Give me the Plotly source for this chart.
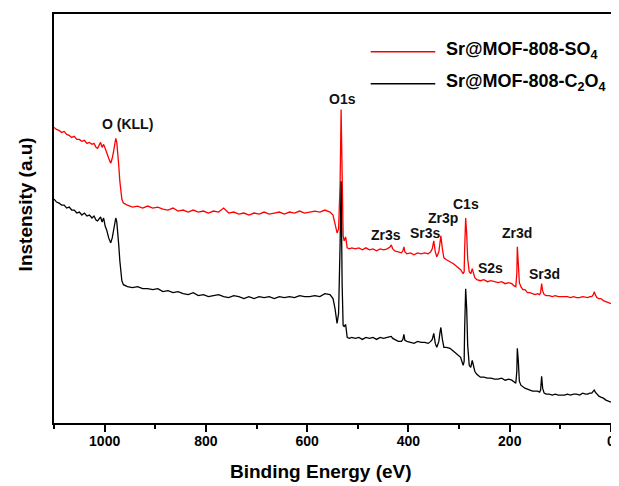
import plotly.graph_objects as go

# Binding energy grid (eV)
be_ev = [
    1100, 1095, 1090, 1085, 1080, 1075, 1070, 1065, 1060, 1055,
    1050, 1045, 1040, 1035, 1030, 1025, 1021, 1017, 1014, 1011,
    1008, 1005, 1002, 999, 996, 992, 988, 985, 982, 980,
    978, 976, 974, 972, 970, 968, 966, 963, 960,
    955, 945, 935, 925, 915, 905, 895, 885, 875, 865,
    855, 845, 835, 825, 815, 805, 795, 785, 775, 765,
    755, 745, 735, 725, 715, 705, 695, 685, 675, 665,
    655, 645, 635, 625, 615, 605, 595, 585, 575, 565,
    555,
    549, 545, 541, 538, 535, 533, 531, 529, 527, 524, 521, 517, 512,
    505, 498, 491, 484, 477, 470, 463, 456, 449, 442,
    436, 434, 431, 427, 420, 414, 411, 409, 407, 403,
    396, 389, 382, 375, 368, 361, 356, 353, 350, 347,
    344, 340, 338, 336, 333, 330, 325, 318, 311, 304,
    297, 292, 290, 289, 287, 285, 283, 280, 277, 274,
    272, 269, 265, 258, 251, 244, 237, 230, 223, 216,
    209, 202, 196, 192, 188, 186, 185, 183, 181, 178,
    174, 170, 165, 160, 155, 150, 145, 141, 139, 137,
    135, 132, 128, 122, 116, 110, 104, 98, 92, 86,
    80, 74, 68, 62, 56, 50, 46, 42, 38, 35,
    33, 31, 28, 24, 20, 15, 10, 5, 0,
]

# Sr@MOF-808-SO4 (red), arbitrary intensity units
int_so4 = [
    297, 295, 294, 292, 293, 290, 289, 287, 288, 285,
    285, 283, 284, 281, 282, 280, 281, 277, 276, 279,
    282, 277, 280, 276, 271, 266, 261, 266, 274, 281,
    286, 282, 272, 258, 243, 232, 225, 221, 220,
    219, 217, 218, 216, 218, 216, 217, 215, 214, 216,
    213, 214, 212, 214, 212, 213, 211, 213, 212, 216,
    211, 212, 210, 211, 209, 211, 210, 212, 210, 211,
    212, 210, 212, 211, 213, 211, 212, 213, 212, 214,
    212,
    209, 200, 191, 195, 240, 315, 230, 188, 183, 187, 176, 175, 176,
    175, 176, 174, 176, 174, 175, 173, 175, 174, 175,
    177, 179, 175, 173, 172, 171, 173, 177, 172, 170,
    171, 169, 171, 170, 171, 170, 172, 175, 183, 172,
    167, 172, 180, 188, 175, 166, 164, 162, 160, 157,
    154, 150, 152, 175, 206, 190, 165, 152, 150, 155,
    152, 146, 144, 143, 144, 142, 143, 142, 141, 142,
    140, 141, 140, 138, 137, 150, 177, 160, 141, 137,
    134, 134, 131, 131, 130, 129, 130, 129, 131, 140,
    133, 129, 128, 128, 127, 128, 127, 127, 127, 127,
    126, 127, 126, 126, 127, 126, 126, 127, 127, 129,
    132, 129, 126, 125, 125, 123, 122, 121, 120,
]

# Sr@MOF-808-C2O4 (black)
int_c2o4 = [
    225, 222, 221, 219, 219, 216, 217, 214, 214, 211,
    212, 209, 211, 208, 209, 206, 208, 204, 203, 205,
    207, 202, 206, 198, 194, 186, 181, 186, 196, 202,
    206, 202, 193, 178, 163, 150, 143, 139, 138,
    137, 136, 137, 135, 135, 134, 135, 132, 133, 131,
    132, 130, 129, 131, 128, 129, 127, 128, 129, 127,
    126, 128, 127, 125, 127, 125, 127, 126, 127, 125,
    127, 126, 127, 126, 128, 127, 127, 128, 127, 130,
    129,
    125, 115, 100, 110, 180, 243, 140, 98, 97, 99, 86, 85, 86,
    85, 86, 84, 86, 85, 86, 84, 86, 85, 86,
    87, 87, 85, 84, 82, 82, 84, 89, 83, 82,
    81, 80, 82, 81, 81, 80, 82, 84, 90, 80,
    76, 82, 90, 96, 84, 76, 76, 75, 72, 69,
    66, 58, 62, 95, 135, 115, 78, 58, 56, 63,
    58, 52, 49, 46, 46, 45, 45, 44, 44, 45,
    43, 44, 43, 41, 40, 52, 75, 62, 42, 38,
    36, 35, 34, 33, 32, 32, 32, 31, 33, 47,
    35, 30, 29, 29, 28, 29, 28, 28, 28, 29,
    28, 29, 29, 28, 30, 29, 29, 30, 30, 32,
    33, 31, 29, 27, 26, 25, 23, 22, 21,
]

assert len(be_ev) == len(int_so4) == len(int_c2o4), (len(be_ev), len(int_so4), len(int_c2o4))

# Peak labels: (text, BE position, intensity position)
peak_labels = ["O (KLL)", "O1s", "Zr3s", "Sr3s", "Zr3p", "C1s", "S2s", "Zr3d", "Sr3d"]
peak_label_x = [955, 530, 444, 367, 332, 287, 238, 185, 132]
peak_label_y = [300, 326, 189, 191, 206, 220, 156, 191, 150]

series_names = ["Sr@MOF-808-SO<sub>4</sub>", "Sr@MOF-808-C<sub>2</sub>O<sub>4</sub>"]
series_colors = ["#ff0000", "#000000"]

major_ticks = [1000, 800, 600, 400, 200, 0]
minor_ticks = [1100, 900, 700, 500, 300, 100]

FONT = "Liberation Sans, Arial, sans-serif"

fig = go.Figure()
for vals, name, col in zip([int_so4, int_c2o4], series_names, series_colors):
    fig.add_trace(go.Scatter(x=be_ev, y=vals, mode="lines", name=name,
                             line=dict(color=col, width=1.3), showlegend=False))

annotations = []
for t, x, y in zip(peak_labels, peak_label_x, peak_label_y):
    annotations.append(dict(text="<b>" + t + "</b>", x=x, y=y, xref="x", yref="y",
                            showarrow=False, font=dict(family=FONT, size=14, color="#111")))

# axis titles
annotations.append(dict(text="<b>Binding Energy (eV)</b>", x=0.4795, y=-0.119, xref="paper", yref="paper",
                        showarrow=False, xanchor="center", yanchor="middle",
                        font=dict(family=FONT, size=19, color="#000")))
annotations.append(dict(text="<b>Instensity (a.u)</b>", x=-0.0517, y=0.535, xref="paper", yref="paper",
                        showarrow=False, textangle=-90, xanchor="center", yanchor="middle",
                        font=dict(family=FONT, size=19, color="#000")))

# manual legend
shapes = []
leg_y = [0.9075, 0.8297]
for name, col, ly in zip(series_names, series_colors, leg_y):
    shapes.append(dict(type="line", xref="paper", yref="paper", x0=0.5686, x1=0.6845, y0=ly, y1=ly,
                       line=dict(color=col, width=1.5)))
    annotations.append(dict(text="<b>" + name + "</b>", x=0.7005, y=ly + 0.004, xref="paper", yref="paper",
                            showarrow=False, xanchor="left", yanchor="middle",
                            font=dict(family=FONT, size=18, color="#000")))

# page body has an 8px margin, so the figure is sized to fill the rest of the window
fig.update_layout(
    width=611, height=478,
    margin=dict(l=46, r=4, t=4, b=63),
    paper_bgcolor="white", plot_bgcolor="white",
    annotations=annotations, shapes=shapes,
    showlegend=False,
)
fig.update_xaxes(range=[1100, 0], tickvals=major_ticks, ticktext=["<b>%d</b>" % v for v in major_ticks],
                 ticks="outside", ticklen=7, tickwidth=1.5, tickcolor="#000", ticklabelstandoff=-3,
                 minor=dict(tickvals=minor_ticks, ticks="outside", ticklen=4, tickwidth=1.5, tickcolor="#000"),
                 showline=True, linecolor="#000", linewidth=1.5, mirror=True,
                 showgrid=False, zeroline=False,
                 tickfont=dict(family=FONT, size=14, color="#000"))
fig.update_yaxes(range=[0, 411], showticklabels=False, ticks="",
                 showline=True, linecolor="#000", linewidth=1.5, mirror=True,
                 showgrid=False, zeroline=False)

fig.write_html("out.html")
